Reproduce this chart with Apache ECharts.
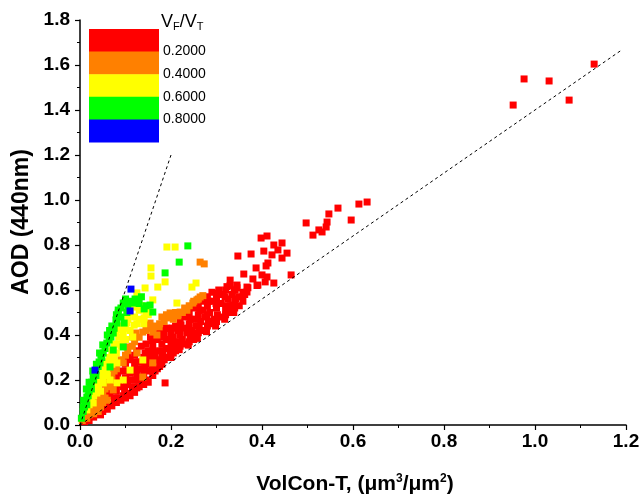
<!DOCTYPE html>
<html>
<head>
<meta charset="utf-8">
<script src="https://cdn.jsdelivr.net/npm/echarts@6/dist/echarts.min.js"></script>
<style>
html,body{margin:0;padding:0;background:#fff;}
#chart{width:640px;height:496px;}
</style>
</head>
<body>
<div id="chart"></div>
<script>
// ---- data (VolCon-T, AOD 440nm) ----
const redPts = [
  [0.952,1.422],[0.976,1.538],[1.031,1.529],[1.075,1.444],[1.130,1.604],
  [0.631,0.991],[0.613,0.982],[0.567,0.964],[0.547,0.938],[0.596,0.911],[0.497,0.898],[0.543,0.902],[0.541,0.880],
  [0.525,0.867],[0.532,0.858],[0.512,0.844],[0.411,0.840],[0.398,0.831],[0.426,0.800],[0.444,0.809],[0.435,0.778],
  [0.455,0.764],[0.404,0.773],[0.422,0.756],[0.376,0.760],[0.347,0.751],[0.444,0.742],[0.413,0.720],[0.409,0.707],
  [0.387,0.698],[0.464,0.667],[0.360,0.671],[0.400,0.667],[0.411,0.658],[0.380,0.649],[0.426,0.631],[0.391,0.622],
  [0.407,0.636],[0.345,0.622],[0.367,0.613],[0.341,0.600],[0.367,0.591],[0.336,0.533],[0.330,0.644],
  [0.01,0.015],[0.02,0.02],[0.03,0.035],[0.035,0.05],[0.045,0.045],[0.05,0.06],[0.055,0.08],[0.06,0.07],
  [0.065,0.09],[0.07,0.085],[0.075,0.10],[0.08,0.10],[0.085,0.12],[0.09,0.11],[0.095,0.13],[0.10,0.12],
  [0.105,0.14],[0.11,0.13],[0.115,0.15],[0.12,0.145],[0.125,0.165],[0.13,0.17],[0.14,0.18],[0.145,0.20],
  [0.15,0.19],[0.16,0.22],[0.165,0.24],[0.17,0.25],[0.175,0.26],[0.18,0.27],[0.185,0.29],[0.19,0.30],
  [0.20,0.30],[0.205,0.32],[0.21,0.33],[0.215,0.34],[0.22,0.35],[0.23,0.36],[0.24,0.37],[0.25,0.38],
  [0.255,0.40],[0.26,0.41],[0.27,0.42],[0.28,0.44],[0.29,0.45],[0.30,0.46],[0.31,0.48],[0.32,0.49],
  [0.33,0.50],[0.34,0.52],[0.35,0.53],
  [0.065,0.13],[0.07,0.17],[0.075,0.21],[0.08,0.15],[0.085,0.19],[0.09,0.24],[0.095,0.17],[0.10,0.21],
  [0.10,0.27],[0.105,0.18],[0.11,0.23],[0.11,0.29],[0.115,0.20],[0.12,0.26],[0.12,0.31],[0.125,0.22],
  [0.13,0.28],[0.13,0.20],[0.135,0.25],[0.14,0.30],[0.14,0.22],[0.145,0.27],[0.15,0.33],[0.15,0.24],
  [0.155,0.30],[0.16,0.27],[0.16,0.35],[0.165,0.31],[0.17,0.29],[0.17,0.38],[0.175,0.33],[0.18,0.36],
  [0.18,0.31],[0.185,0.41],[0.19,0.34],[0.19,0.38],[0.195,0.43],[0.20,0.36],[0.20,0.41],[0.205,0.39],
  [0.21,0.44],[0.21,0.37],[0.215,0.42],[0.22,0.40],[0.22,0.46],[0.225,0.38],[0.23,0.43],[0.23,0.48],
  [0.235,0.41],[0.24,0.45],[0.24,0.50],[0.245,0.42],[0.25,0.47],[0.25,0.52],[0.255,0.44],[0.26,0.49],
  [0.26,0.53],[0.265,0.46],[0.27,0.51],[0.27,0.55],[0.275,0.48],[0.28,0.53],[0.28,0.57],[0.285,0.50],
  [0.29,0.55],[0.29,0.59],[0.295,0.47],[0.30,0.52],[0.30,0.57],[0.305,0.60],[0.31,0.54],[0.315,0.58],
  [0.32,0.51],[0.32,0.60],[0.325,0.56],[0.33,0.53],[0.33,0.62],[0.335,0.58],[0.34,0.55],[0.345,0.61],
  [0.35,0.57],[0.358,0.59],[0.369,0.61],[0.389,0.62],[0.187,0.187],
  [0.058,0.10],[0.062,0.15],[0.078,0.12],[0.082,0.18],[0.083,0.22],[0.098,0.15],[0.102,0.185],[0.104,0.24],
  [0.118,0.17],[0.122,0.20],[0.121,0.235],[0.124,0.28],[0.138,0.205],[0.142,0.25],[0.139,0.28],[0.143,0.32],
  [0.158,0.245],[0.161,0.29],[0.163,0.325],[0.158,0.375],[0.178,0.285],[0.182,0.33],[0.181,0.39],[0.179,0.42],
  [0.198,0.32],[0.202,0.345],[0.199,0.38],[0.203,0.43],[0.218,0.335],[0.221,0.37],[0.219,0.42],[0.222,0.445],
  [0.238,0.355],[0.242,0.39],[0.239,0.43],[0.243,0.47],[0.258,0.385],[0.262,0.43],[0.259,0.47],[0.263,0.51],
  [0.278,0.415],[0.282,0.46],[0.279,0.49],[0.283,0.55],[0.298,0.44],[0.302,0.49],[0.299,0.54],[0.303,0.585],
  [0.318,0.47],[0.322,0.53],[0.319,0.57],[0.323,0.615],[0.338,0.50],[0.342,0.56],[0.339,0.60],[0.358,0.55],[0.362,0.58],
  [0.105,0.30],[0.125,0.33],[0.135,0.35],[0.145,0.36],[0.155,0.39],[0.165,0.40],[0.175,0.41],[0.19,0.43]
];
const orangePts = [
  [0.005,0.02],[0.01,0.035],[0.015,0.03],[0.015,0.05],[0.02,0.045],[0.025,0.06],[0.03,0.05],[0.035,0.07],
  [0.04,0.06],[0.04,0.09],[0.045,0.08],[0.05,0.10],[0.055,0.12],[0.06,0.11],[0.06,0.19],[0.065,0.21],
  [0.07,0.20],[0.07,0.23],[0.073,0.156],[0.044,0.124],[0.059,0.187],
  [0.095,0.276],[0.103,0.347],[0.116,0.391],[0.125,0.32],[0.123,0.409],[0.138,0.413],
  [0.138,0.213],[0.154,0.453],[0.16,0.276],[0.16,0.413],[0.165,0.44],[0.169,0.40],
  [0.174,0.436],[0.18,0.48],[0.185,0.46],[0.191,0.476],[0.198,0.498],[0.202,0.489],[0.21,0.50],[0.22,0.502],
  [0.23,0.52],[0.248,0.542],[0.257,0.556],[0.264,0.569],[0.264,0.724],[0.273,0.716],
  [0.02,0.07],[0.03,0.08],[0.035,0.10],[0.045,0.11],[0.05,0.14],[0.055,0.16],[0.065,0.17],[0.075,0.24],
  [0.08,0.25],[0.09,0.29],[0.10,0.31],[0.105,0.33],[0.115,0.35],[0.12,0.37],[0.13,0.39],[0.145,0.42],
  [0.155,0.43],[0.175,0.45],[0.19,0.49],[0.205,0.47],[0.215,0.485],[0.225,0.50],
  [0.235,0.51],[0.24,0.53],[0.25,0.55],[0.26,0.56],[0.27,0.575]
];
const yellowPts = [
  [0.015,0.067],[0.02,0.09],[0.025,0.11],[0.029,0.098],[0.03,0.13],[0.037,0.142],[0.04,0.17],[0.045,0.20],
  [0.051,0.187],[0.05,0.23],[0.055,0.25],[0.059,0.244],[0.06,0.28],[0.066,0.20],[0.073,0.333],[0.075,0.30],
  [0.081,0.276],[0.081,0.187],[0.079,0.409],[0.088,0.422],[0.085,0.36],[0.095,0.20],[0.095,0.38],[0.10,0.43],
  [0.103,0.453],[0.11,0.244],[0.116,0.524],[0.116,0.391],[0.119,0.444],[0.127,0.547],[0.13,0.47],[0.138,0.289],
  [0.141,0.476],[0.145,0.50],[0.125,0.587],[0.143,0.609],[0.156,0.698],[0.156,0.662],[0.16,0.556],[0.171,0.613],
  [0.187,0.636],[0.191,0.791],[0.209,0.791],[0.213,0.542],[0.246,0.613],[0.255,0.631],
  [0.02,0.10],[0.03,0.16],[0.04,0.19],[0.045,0.15],[0.05,0.21],[0.055,0.28],[0.06,0.22],[0.065,0.30],
  [0.07,0.27],[0.07,0.33],[0.075,0.36],[0.08,0.32],[0.085,0.39],[0.09,0.35],[0.09,0.44],[0.095,0.41],
  [0.10,0.38],[0.105,0.47],[0.11,0.42],[0.11,0.50],[0.12,0.48],[0.125,0.45],[0.13,0.51],[0.135,0.53],
  [0.14,0.45],[0.15,0.49],[0.15,0.52]
];
const greenPts = [
  [0.003,0.03],[0.007,0.06],[0.007,0.08],[0.012,0.10],[0.015,0.124],[0.02,0.15],[0.022,0.169],[0.025,0.19],
  [0.029,0.213],[0.035,0.24],[0.04,0.26],[0.044,0.276],[0.048,0.30],[0.051,0.32],[0.05,0.356],[0.059,0.364],
  [0.064,0.378],[0.066,0.258],[0.068,0.391],[0.073,0.409],[0.073,0.333],[0.079,0.467],[0.081,0.453],[0.084,0.511],
  [0.084,0.498],[0.095,0.542],[0.095,0.347],[0.097,0.453],[0.101,0.542],[0.103,0.50],[0.116,0.542],[0.121,0.56],
  [0.125,0.556],[0.141,0.516],[0.154,0.533],[0.16,0.502],[0.187,0.676],[0.218,0.724],[0.237,0.796],
  [0.01,0.08],[0.015,0.09],[0.018,0.13],[0.025,0.16],[0.03,0.20],[0.035,0.22],[0.042,0.28],[0.046,0.31],
  [0.055,0.34],[0.06,0.40],[0.065,0.42],[0.07,0.44],[0.075,0.43],[0.08,0.49],[0.09,0.48],[0.09,0.52],
  [0.10,0.56],[0.105,0.53],[0.11,0.55],[0.13,0.54],[0.135,0.57],[0.145,0.53],
  [0.008,0.11],[0.014,0.16],[0.02,0.19],[0.028,0.24],[0.036,0.27],[0.043,0.32]
];
const bluePts = [[0.033,0.244],[0.11,0.507],[0.112,0.604]];
const upperLine = [[0,0],[0.2,1.2]];
const lowerLine = [[0,0],[1.19,1.666]];
const legendColors = ['#ff0000','#ff8000','#ffff00','#00ff00','#0000ff'];
const legendLabels = ['0.2000','0.4000','0.6000','0.8000'];
const xTicks = {min:0,max:1.2,interval:0.2};
const yTicks = {min:0,max:1.8,interval:0.2};

// ---- chart ----
const chart = echarts.init(document.getElementById('chart'), null, {renderer:'canvas'});
const FONT = '"Liberation Sans", Arial, sans-serif';
const G = {left:80, top:20, right:14, bottom:71};
const legX = 89, legY = 29, legW = 70, legH = 22.6;

const graphics = [];
legendColors.forEach((c,i)=>{
  graphics.push({type:'rect', left:legX, top:legY+i*legH, shape:{width:legW, height:legH+0.5}, style:{fill:c}, z:100});
});
legendLabels.forEach((t,i)=>{
  graphics.push({type:'text', x:163, y:legY+(i+1)*legH, style:{text:t, fill:'#000', font:'14px '+FONT, textVerticalAlign:'middle'}, z:100});
});
graphics.push({type:'text', x:161, y:22, z:100, style:{
  text:'{v|V}{s|F}{v|/V}{s|T}', verticalAlign:'middle', textVerticalAlign:'middle',
  rich:{v:{fontSize:18, fontFamily:FONT, fill:'#000', lineHeight:20}, s:{fontSize:11, fontFamily:FONT, fill:'#000', padding:[10,0,0,0], lineHeight:20}}
}});
graphics.push({type:'text', x:355, y:484, z:100, style:{
  text:'{t|VolCon-T, (\u03bcm}{sup|3}{t|/\u03bcm}{sup|2}{t|)}', textAlign:'center', textVerticalAlign:'middle',
  rich:{t:{fontSize:21, fontWeight:'bold', fontFamily:FONT, fill:'#000', lineHeight:24},
        sup:{fontSize:12, fontWeight:'bold', fontFamily:FONT, fill:'#000', padding:[0,0,11,0], lineHeight:24}}
}});
graphics.push({type:'text', x:22, y:222, rotation:Math.PI/2, z:100, style:{text:'AOD (440nm)', fill:'#000', font:'bold 23px '+FONT, textAlign:'center', textVerticalAlign:'middle'}});

function sc(name, data, color){
  return {name, type:'scatter', data, symbol:'rect', symbolSize:7, itemStyle:{color, opacity:1}, silent:true, z:2};
}
function ln(data){
  return {type:'line', data, symbol:'none', silent:true, z:3, lineStyle:{color:'#000', width:1, type:[3,3]}};
}

const axisCommon = {
  type:'value',
  axisLine:{show:true, onZero:false, lineStyle:{color:'#000', width:1.5}},
  axisTick:{show:true, inside:false, length:5, lineStyle:{color:'#000', width:1.2}},
  minorTick:{show:true, splitNumber:2, length:3, lineStyle:{color:'#000', width:1}},
  splitLine:{show:false},
  axisLabel:{color:'#000', fontWeight:'bold', fontSize:19, fontFamily:FONT, formatter:v=>v.toFixed(1)}
};

chart.setOption({
  animation:false,
  backgroundColor:'#fff',
  grid:{left:G.left, top:G.top, right:G.right, bottom:G.bottom, containLabel:false, outerBoundsMode:'none'},
  xAxis:Object.assign({}, axisCommon, {min:xTicks.min, max:xTicks.max, interval:xTicks.interval,
    axisLabel:Object.assign({}, axisCommon.axisLabel, {margin:7, showMaxLabel:true})}),
  yAxis:Object.assign({}, axisCommon, {min:yTicks.min, max:yTicks.max, interval:yTicks.interval,
    axisLabel:Object.assign({}, axisCommon.axisLabel, {margin:10, showMaxLabel:true})}),
  series:[
    sc('red', redPts, legendColors[0]),
    sc('orange', orangePts, legendColors[1]),
    sc('yellow', yellowPts, legendColors[2]),
    sc('green', greenPts, legendColors[3]),
    sc('blue', bluePts, legendColors[4]),
    ln(upperLine),
    ln(lowerLine)
  ],
  graphic:graphics
});
</script>
</body>
</html>
